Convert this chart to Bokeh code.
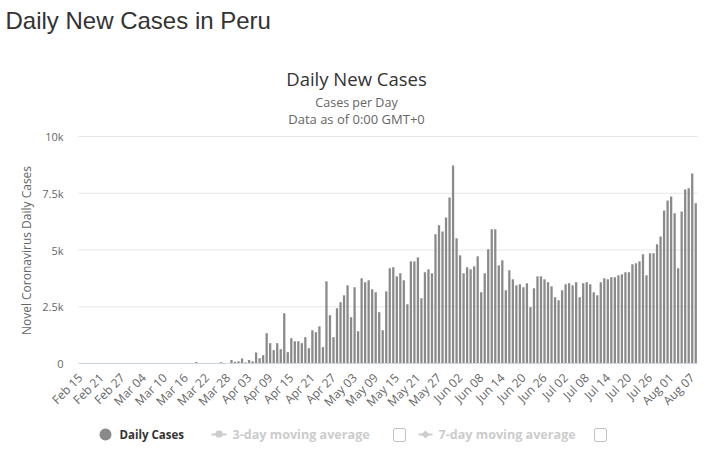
import math
import pandas as pd
from bokeh.plotting import figure
from bokeh.models import Label, FixedTicker, BoxAnnotation, PolyAnnotation, Range1d
from bokeh.embed import file_html
from bokeh.resources import INLINE

# ---------------- data ----------------
dates = pd.date_range("2020-02-15", "2020-08-08").strftime("%b %d").tolist()

cases = [
    # Feb 15 - Mar 05
    0, 0, 0, 0, 0, 0, 0, 0, 0, 0, 0, 0, 0, 0, 0, 0, 0, 0, 0, 0,
    # Mar 06 - Mar 18
    1, 5, 1, 2, 2, 4, 7, 9, 10, 12, 12, 14, 15,
    # Mar 19 - Mar 28
    70, 12, 14, 12, 10, 14, 15, 60, 15, 18,
    # Mar 29 - Apr 30
    150, 75, 100, 220, 45, 150, 100, 485, 235, 365, 1335, 895, 590, 895, 630,
    2215, 500, 1115, 980, 980, 895, 1160, 675, 1465, 1380, 1640, 720, 3620, 2125,
    1160, 2435, 2700, 3005,
    # May 01 - May 31
    3445, 2040, 3360, 1420, 3755, 3580, 3665, 3270, 3140, 2260, 1465, 3180, 4195,
    4240, 3840, 3975, 3665, 2610, 4500, 4500, 4675, 2875, 4020, 4150, 3975, 5690,
    6085, 5820, 6435, 7315, 8725,
    # Jun 01 - Jun 30
    5515, 4765, 3975, 4240, 4150, 4280, 4720, 3140, 3975, 5030, 5910, 5910, 4325,
    4545, 3225, 4105, 3710, 3445, 3490, 3360, 3535, 2480, 3315, 3840, 3840, 3710,
    3580, 3400, 2920, 2785,
    # Jul 01 - Jul 31
    3225, 3490, 3535, 3445, 3580, 2920, 3535, 3580, 3490, 3140, 3005, 3580, 3755,
    3710, 3800, 3800, 3885, 3930, 4020, 4020, 4370, 4415, 4500, 4810, 3885, 4855,
    4855, 5250, 5600, 6745, 7185,
    # Aug 01 - Aug 08
    7360, 6615, 4195, 6700, 7670, 7715, 8370, 7055,
]

x_tick_labels = ["Feb 15", "Feb 21", "Feb 27", "Mar 04", "Mar 10", "Mar 16",
                 "Mar 22", "Mar 28", "Apr 03", "Apr 09", "Apr 15", "Apr 21",
                 "Apr 27", "May 03", "May 09", "May 15", "May 21", "May 27",
                 "Jun 02", "Jun 08", "Jun 14", "Jun 20", "Jun 26", "Jul 02",
                 "Jul 08", "Jul 14", "Jul 20", "Jul 26", "Aug 01", "Aug 07"]
y_ticks = [0, 2500, 5000, 7500, 10000]
y_tick_labels = ["0", "2.5k", "5k", "7.5k", "10k"]
legend_labels = ["Daily Cases", "3-day moving average", "7-day moving average"]

# ---------------- layout constants (page pixels) ----------------
W, H = 705, 455
PLOT_L, PLOT_R = 78, 697      # left / right edge of the bar area
PLOT_T, PLOT_B = 136, 363     # page y of 10k line and 0 line
Y_MAX = 10000
n = len(dates)

px_x = (PLOT_R - PLOT_L) / n            # pixels per day
px_y = (PLOT_B - PLOT_T) / Y_MAX        # pixels per case
x0 = -0.5 - PLOT_L / px_x
x1 = -0.5 + (W - PLOT_L) / px_x
y1 = PLOT_B / px_y
y0 = -(H - PLOT_B) / px_y

FONT = "Open Sans"
idx = list(range(n))

# the frame covers the whole canvas so that every text can be placed freely
p = figure(width=W, height=H, output_backend="svg", toolbar_location=None,
           x_range=Range1d(x0, x1), y_range=Range1d(y0, y1),
           min_border_left=0, min_border_right=0,
           min_border_top=0, min_border_bottom=0)
p.outline_line_color = None
p.xgrid.visible = False
p.ygrid.visible = False

# horizontal grid lines, limited to the bar area
p.segment(x0=[-0.5] * len(y_ticks), x1=[n - 0.5] * len(y_ticks),
          y0=y_ticks, y1=y_ticks, line_color="#e6e6e6", line_width=1,
          level="underlay")

p.vbar(x=idx, top=cases, width=0.65, color="#8a8a8a", line_color=None)

# x axis at y = 0
xt_pos = [dates.index(lbl) for lbl in x_tick_labels]
p.xaxis.fixed_location = 0
p.xaxis.bounds = (-0.5, n - 0.5)
p.xaxis.ticker = FixedTicker(ticks=xt_pos)
p.xaxis.major_label_overrides = {i: l for i, l in zip(xt_pos, x_tick_labels)}
p.xaxis.major_label_orientation = math.pi / 4
p.xaxis.axis_line_color = "#ccd6eb"
p.xaxis.major_tick_line_color = None
p.xaxis.minor_tick_line_color = None
p.xaxis.major_label_text_font = FONT
p.xaxis.major_label_text_font_size = "12px"
p.xaxis.major_label_text_color = "#666666"
p.xaxis.major_label_standoff = 6

# y axis at the left edge of the bar area
p.yaxis.fixed_location = -0.5
p.yaxis.bounds = (0, Y_MAX)
p.yaxis.ticker = FixedTicker(ticks=y_ticks)
p.yaxis.major_label_overrides = {t: l for t, l in zip(y_ticks, y_tick_labels)}
p.yaxis.axis_line_color = None
p.yaxis.major_tick_line_color = None
p.yaxis.minor_tick_line_color = None
p.yaxis.major_tick_out = 0
p.yaxis.major_tick_in = 0
p.yaxis.major_label_standoff = 15
p.yaxis.major_label_text_font = FONT
p.yaxis.major_label_text_font_size = "11px"
p.yaxis.major_label_text_color = "#666666"

def label(x, y, s, size, color, font=FONT, align="center", style="normal", angle=0.0):
    """x, y in page pixels (y downwards)."""
    p.add_layout(Label(x=x, y=H - y, x_units="screen", y_units="screen", text=s,
                       text_font=font, text_font_size=size, text_color=color,
                       text_font_style=style, text_align=align,
                       text_baseline="middle", angle=angle))

# ---------------- titles ----------------
label(5, 20, "Daily New Cases in Peru", "24px", "#333333",
      font="Liberation Sans", align="left")
label(356, 78, "Daily New Cases", "18.5px", "#333333")
label(356, 102, "Cases per Day", "12.5px", "#666666")
label(356, 118, "Data as of 0:00 GMT+0", "13px", "#666666")
label(26, 250, "Novel Coronavirus Daily Cases", "12px", "#666666", angle=math.pi / 2)

# ---------------- legend ----------------
LY = H - 434  # legend centre line, measured up from the canvas bottom

def box(l, r, b, t, fill, line=None, radius=0, lw=1):
    p.add_layout(BoxAnnotation(left=l, right=r, bottom=b, top=t,
                               left_units="screen", right_units="screen",
                               bottom_units="screen", top_units="screen",
                               fill_color=fill, fill_alpha=1.0,
                               line_color=line, line_width=lw,
                               border_radius=radius, level="overlay"))

# Daily Cases
box(99, 111, LY - 6, LY + 6, "#8a8a8a", None, 6)
label(119, 434, legend_labels[0], "11.5px", "#333333", align="left", style="bold")
# 3-day moving average (hidden series)
box(211, 226, LY - 1, LY + 1, "#cccccc")
box(215, 222, LY - 3, LY + 4, "#cccccc", None, 3)
label(232, 434, legend_labels[1], "12.6px", "#cccccc", align="left", style="bold")
box(393, 405, LY - 7, LY + 6, "white", "#333333", 2)
# 7-day moving average (hidden series)
box(418, 432, LY - 1, LY + 1, "#cccccc")
p.add_layout(PolyAnnotation(xs=[425, 429, 425, 421], ys=[LY + 4, LY, LY - 4, LY],
                            xs_units="screen", ys_units="screen",
                            fill_color="#cccccc", fill_alpha=1.0, line_color=None))
label(438, 434, legend_labels[2], "12.6px", "#cccccc", align="left", style="bold")
box(594, 606, LY - 7, LY + 6, "white", "#333333", 2)

open("out.html", "w").write(file_html(p, INLINE))
